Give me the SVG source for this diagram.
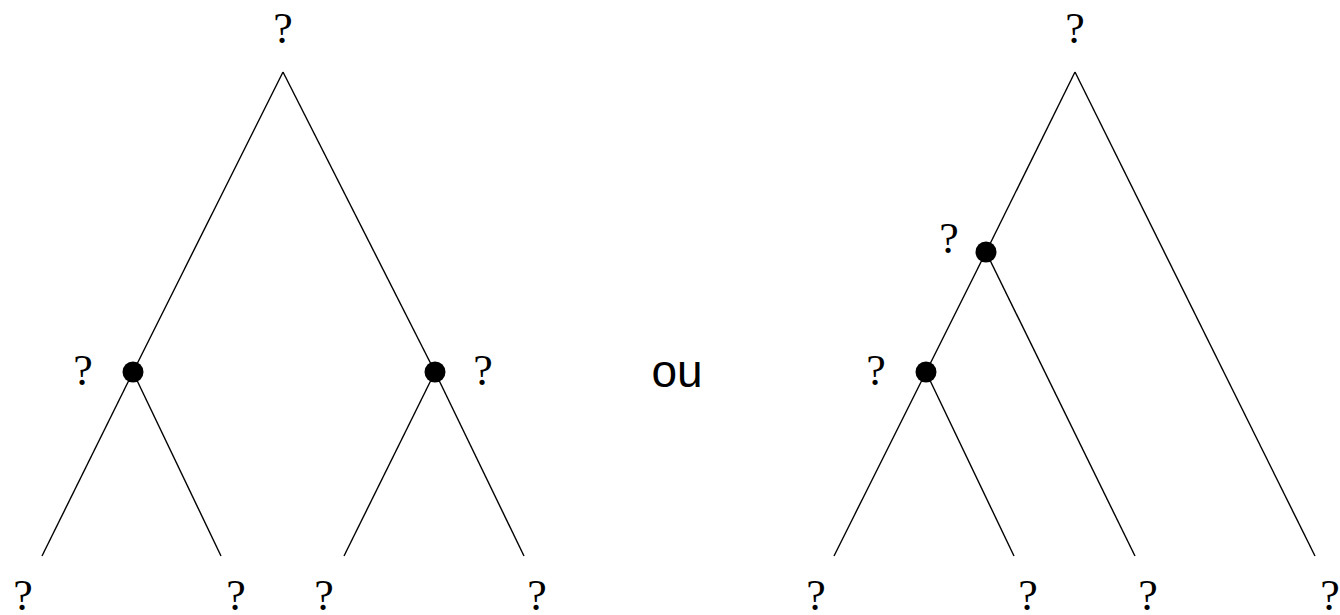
<svg xmlns="http://www.w3.org/2000/svg" width="1340" height="615" viewBox="0 0 1340 615">
<style>
.q{font-family:"Liberation Serif","DejaVu Serif",serif;font-size:44px;text-anchor:middle;fill:#000}
.e{stroke:#000;stroke-width:1.4;fill:none}
.n{fill:#000}
.ou{font-family:"Liberation Sans","DejaVu Sans",sans-serif;font-size:46px;text-anchor:middle;fill:#000}
</style>
<rect width="1340" height="615" fill="#fff"/>
<g id="connectors">
<line class="e" x1="283" y1="72" x2="133" y2="372"/>
<line class="e" x1="283" y1="72" x2="435" y2="372"/>
<line class="e" x1="133" y1="372" x2="42" y2="556"/>
<line class="e" x1="133" y1="372" x2="221" y2="556"/>
<line class="e" x1="435" y1="372" x2="344" y2="556"/>
<line class="e" x1="435" y1="372" x2="524" y2="556"/>
<line class="e" x1="1075" y1="72" x2="986" y2="252"/>
<line class="e" x1="1075" y1="72" x2="1315" y2="556"/>
<line class="e" x1="986" y1="252" x2="926" y2="372"/>
<line class="e" x1="986" y1="252" x2="1135" y2="556"/>
<line class="e" x1="926" y1="372" x2="834" y2="556"/>
<line class="e" x1="926" y1="372" x2="1014" y2="556"/>
</g>
<g id="left-root"><text class="q" x="283" y="43">?</text></g>
<g id="left-n1"><circle class="n" cx="133" cy="372" r="10.5"/><text class="q" x="83" y="385">?</text></g>
<g id="left-n2"><circle class="n" cx="435" cy="372" r="10.5"/><text class="q" x="483" y="385">?</text></g>
<g id="left-l1"><text class="q" x="23" y="610">?</text></g>
<g id="left-l2"><text class="q" x="236" y="610">?</text></g>
<g id="left-l3"><text class="q" x="324" y="610">?</text></g>
<g id="left-l4"><text class="q" x="537" y="610">?</text></g>
<g id="ou"><text class="ou" x="677" y="387">ou</text></g>
<g id="right-root"><text class="q" x="1075" y="43">?</text></g>
<g id="right-n1"><circle class="n" cx="986" cy="252" r="10.5"/><text class="q" x="949" y="253">?</text></g>
<g id="right-n2"><circle class="n" cx="926" cy="372" r="10.5"/><text class="q" x="876" y="385">?</text></g>
<g id="right-l1"><text class="q" x="816" y="610">?</text></g>
<g id="right-l2"><text class="q" x="1028" y="610">?</text></g>
<g id="right-l3"><text class="q" x="1148" y="610">?</text></g>
<g id="right-l4"><text class="q" x="1330" y="610">?</text></g>
</svg>
